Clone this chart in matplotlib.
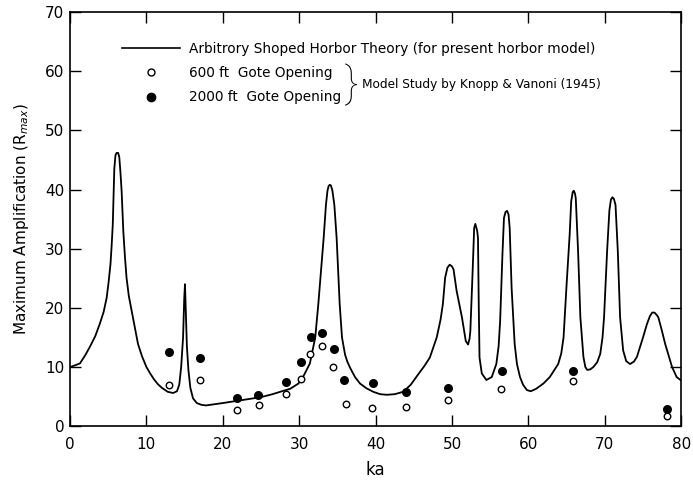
import matplotlib
matplotlib.use("Agg")
import matplotlib.pyplot as plt
from matplotlib.lines import Line2D

# Theory curve
ka_theory = [0.0, 0.5, 1.3, 2.0, 2.6, 3.3, 3.9, 4.4, 4.8, 5.05, 5.3, 5.45, 5.6, 5.7, 5.8, 5.95, 6.1, 6.3,
             6.45, 6.6, 6.76, 6.98, 7.2, 7.4, 7.7, 8.07, 8.5, 8.9, 9.4, 10.0, 10.5, 11.0, 11.5, 12.0,
             12.8, 13.5, 14.0, 14.3, 14.55, 14.8, 14.95, 15.05, 15.15, 15.3, 15.5, 15.75, 16.1, 16.6,
             17.2, 17.8, 20.0, 22.0, 25.0, 26.5, 28.0, 28.8, 29.9, 30.5, 31.4, 32.1, 32.5, 32.85,
             33.2, 33.5, 33.7, 33.85, 34.0, 34.15, 34.35, 34.6, 34.9, 35.1, 35.3, 35.6, 36.0, 36.3,
             36.65, 37.3, 37.96, 38.8, 39.7, 40.6, 41.45, 42.5, 43.6, 44.6, 45.6, 46.4, 47.1, 48.0,
             48.5, 48.8, 49.1, 49.4, 49.7, 50.0, 50.2, 50.6, 51.3, 51.8, 52.1, 52.3, 52.4, 52.7,
             52.9, 53.05, 53.2, 53.3, 53.4, 53.5, 53.6, 53.9, 54.5, 55.2, 55.8, 56.1, 56.3, 56.6,
             56.8, 57.0, 57.2, 57.4, 57.55, 57.8, 58.2, 58.5, 58.9, 59.3, 59.8, 60.3, 61.0, 61.96,
             62.8, 63.9, 64.3, 64.6, 65.0, 65.4, 65.6, 65.8, 65.95, 66.1, 66.2, 66.5, 66.8, 67.2,
             67.45, 67.7, 68.1, 68.5, 69.0, 69.4, 69.7, 69.9, 70.3, 70.6, 70.8, 71.0, 71.2, 71.4,
             71.7, 72.0, 72.4, 72.8, 73.3, 73.8, 74.2, 75.0, 75.5, 75.9, 76.2, 76.5, 76.8, 77.0,
             77.4, 77.9, 78.4, 78.8, 79.4, 80.0]
r_theory = [10.0, 10.2, 10.6, 12.0, 13.4, 15.2, 17.3, 19.3, 21.7, 24.3, 27.4, 30.5, 34.1, 38.5, 43.5, 45.8, 46.2, 46.2,
            45.5, 43.0, 39.7, 32.9, 28.5, 25.1, 22.0, 19.5, 16.5, 13.9, 11.9, 10.0, 8.9, 7.9, 7.1, 6.5,
            5.8, 5.6, 5.9, 7.0, 10.0, 15.0, 21.5, 24.0, 20.0, 13.5, 9.5, 6.5, 4.7, 3.9,
            3.6, 3.5, 3.9, 4.3, 4.9, 5.4, 6.0, 6.3, 7.2, 8.3, 10.6, 15.0, 20.6, 26.2,
            31.8, 37.4, 39.8, 40.6, 40.8, 40.7, 39.8, 37.4, 31.8, 26.2, 20.6, 15.0, 12.1, 10.9,
            9.9, 8.3, 7.2, 6.4, 5.8, 5.4, 5.3, 5.4, 5.8, 7.0, 8.8, 10.2, 11.6, 15.0,
            18.0, 20.6, 25.1, 26.8, 27.3, 27.0, 26.5, 22.9, 18.4, 14.4, 13.8, 14.8, 16.1, 26.2,
            33.5, 34.2, 33.5, 33.0, 31.8, 20.6, 11.6, 8.9, 7.8, 8.3, 10.5, 13.5, 17.8, 29.0,
            35.2, 36.2, 36.4, 35.8, 33.5, 23.4, 13.9, 10.5, 8.3, 7.0, 6.1, 5.9, 6.3, 7.2,
            8.3, 10.5, 12.3, 15.0, 24.0, 32.4, 38.0, 39.6, 39.8, 39.3, 38.5, 29.6, 18.4, 11.7,
            10.0, 9.5, 9.6, 10.0, 10.8, 12.2, 15.0, 18.4, 29.6, 36.5, 38.3, 38.7, 38.4, 37.4,
            29.6, 18.4, 12.8, 11.0, 10.5, 10.9, 11.7, 15.0, 17.2, 18.6, 19.2, 19.2, 18.8, 18.4,
            16.5, 13.9, 11.7, 10.0, 8.3, 7.7]

# Model study: 600 ft gate opening (open circles)
ka_600 = [13.0, 17.0, 21.9, 24.7, 28.3, 30.2, 31.4, 33.0, 34.4, 36.1, 39.5, 44.0, 49.5, 56.4, 65.8, 78.1]
r_600 = [7.0, 7.75, 2.75, 3.5, 5.4, 7.9, 12.2, 13.5, 10.0, 3.7, 3.1, 3.3, 4.5, 6.3, 7.7, 1.7]

# Model study: 2000 ft gate opening (filled circles)
ka_2000 = [13.0, 17.0, 21.9, 24.6, 28.3, 30.3, 31.5, 33.0, 34.5, 35.9, 39.6, 44.0, 49.5, 56.5, 65.8, 78.2]
r_2000 = [12.6, 11.5, 4.7, 5.3, 7.4, 10.8, 15.1, 15.7, 13.0, 7.8, 7.3, 5.8, 6.4, 9.4, 9.4, 2.9]

x_ticks = [0, 10, 20, 30, 40, 50, 60, 70, 80]
y_ticks = [0, 10, 20, 30, 40, 50, 60, 70]

label_theory = "Arbitrory Shoped Horbor Theory (for present horbor model)"
label_600 = "600 ft  Gote Opening"
label_2000 = "2000 ft  Gote Opening"
label_study = "Model Study by Knopp & Vanoni (1945)"

plt.rcParams['font.family'] = ['DejaVu Sans']

fig = plt.figure(figsize=(6.93, 4.87), dpi=100)
ax = fig.add_axes([0.101, 0.125, 0.882, 0.850])

ax.plot(ka_theory, r_theory, color='black', lw=1.3, solid_joinstyle='round')
ax.scatter(ka_600, r_600, s=22, facecolors='white', edgecolors='black', linewidths=1.0, zorder=3)
ax.scatter(ka_2000, r_2000, s=30, facecolors='black', edgecolors='black', linewidths=1.0, zorder=3)

ax.set_xlim(0, 80)
ax.set_ylim(0, 70)
ax.set_xticks(x_ticks)
ax.set_yticks(y_ticks)
ax.tick_params(direction='in', length=8, width=1.0, top=True, right=True, labelsize=11)
ax.tick_params(axis='x', pad=8)
ax.tick_params(axis='y', pad=4)
for s in ax.spines.values():
    s.set_linewidth(1.2)

ax.set_xlabel("ka", fontsize=12, labelpad=6)
ax.set_ylabel("Maximum Amplification (R$_{max}$)", fontsize=11, labelpad=10)

handles = [
    Line2D([], [], color='black', lw=1.2),
    Line2D([], [], ls='none', marker='o', ms=5, mfc='white', mec='black', mew=1.0),
    Line2D([], [], ls='none', marker='o', ms=6, mfc='black', mec='black'),
]
leg = ax.legend(handles, [label_theory, label_600, label_2000], loc='upper left',
                bbox_to_anchor=(0.085, 0.928), frameon=False, fontsize=9.8,
                handlelength=4.3, handletextpad=0.65, labelspacing=0.75,
                borderpad=0, borderaxespad=0)

ax.text(0.449, 0.823, "}", transform=ax.transAxes, fontsize=30, va='center', ha='left',
        family='Roboto', fontweight='light')
ax.text(0.478, 0.826, label_study, transform=ax.transAxes, fontsize=8.7, va='center', ha='left')

fig.savefig("out.png", dpi=100)
